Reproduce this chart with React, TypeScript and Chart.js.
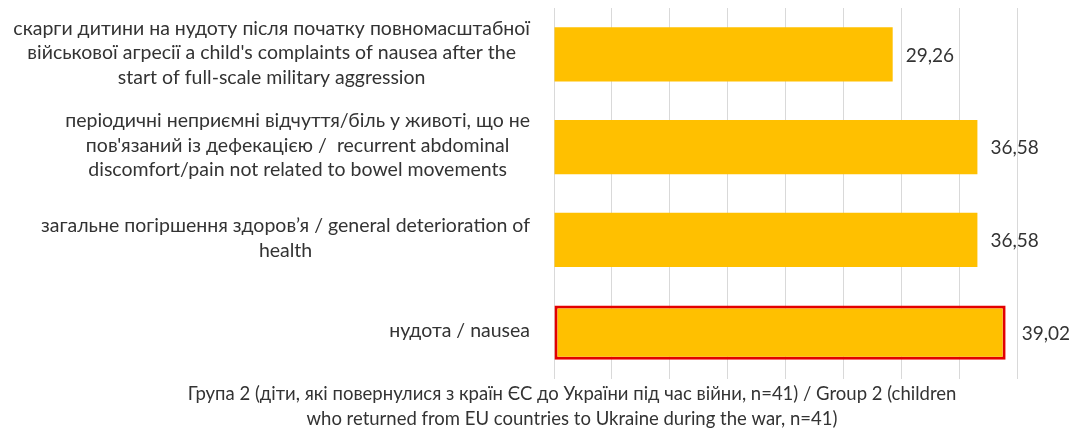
import React, { useEffect, useRef } from "react";
import { Chart, registerables } from "chart.js";

Chart.register(...registerables);

const categories: string[][] = [
  [
    "скарги дитини на нудоту після початку повномасштабної",
    "військової агресії a child's complaints of nausea after the",
    "start of full-scale military aggression",
  ],
  [
    "періодичні неприємні відчуття/біль у животі, що не",
    "пов'язаний із дефекацією /  recurrent abdominal",
    "discomfort/pain not related to bowel movements",
  ],
  ["загальне погіршення здоров’я / general deterioration of", "health"],
  ["нудота / nausea"],
];
const values = [29.26, 36.58, 36.58, 39.02];
const valueLabels = ["29,26", "36,58", "36,58", "39,02"];
const axisMin = 0;
const axisMax = 40;
const axisStep = 5;
const axisTitle = [
  "Група 2 (діти, які повернулися з країн ЄС до України під час війни, n=41) / Group 2 (children",
  "who returned from EU countries to Ukraine during the war, n=41)",
];

const LABEL_FONT = "19.5px Lato";
const VALUE_FONT = "19px Lato";
const TITLE_FONT = "18.5px Lato";
const TEXT = "#333333";
const borderWidths = [0, 0, 0, 3];

const textPlugin = {
  id: "customText",
  afterDraw(chart: any) {
    const ctx = chart.ctx;
    const ys = chart.scales.y;
    const area = chart.chartArea;
    ctx.save();
    ctx.font = LABEL_FONT;
    ctx.fillStyle = TEXT;
    ctx.textBaseline = "middle";
    ctx.textAlign = "center";
    const lh = 24.5;
    const rightEdge = area.left - 24;
    categories.forEach((lines, i) => {
      const yc = ys.getPixelForValue(i) - 1.5;
      const w = Math.max(...lines.map((l) => ctx.measureText(l).width));
      const cx = rightEdge - w / 2;
      lines.forEach((l, j) => {
        ctx.fillText(l, cx, yc + (j - (lines.length - 1) / 2) * lh);
      });
    });
    // data labels
    const meta = chart.getDatasetMeta(0);
    ctx.font = VALUE_FONT;
    ctx.textAlign = "left";
    meta.data.forEach((bar: any, i: number) => {
      ctx.fillText(valueLabels[i], bar.x + 13 + borderWidths[i], bar.y + 1);
    });
    // axis title
    ctx.font = TITLE_FONT;
    ctx.textAlign = "center";
    axisTitle.forEach((l, j) => {
      ctx.fillText(l, 572, 394.5 + j * 25);
    });
    ctx.restore();
  },
};

export default function App() {
  const ref = useRef<HTMLCanvasElement | null>(null);
  useEffect(() => {
    document.body.style.margin = "0";
    document.body.style.overflow = "hidden";
    if (!ref.current) return;
    const chart = new Chart(ref.current, {
      type: "bar",
      data: {
        labels: categories.map((c) => c.join(" ")),
        datasets: [
          {
            data: values,
            backgroundColor: "#FFC000",
            borderColor: ["#FFC000", "#FFC000", "#FFC000", "#E30000"],
            borderWidth: borderWidths,
            borderSkipped: false,
            barPercentage: 0.584,
            categoryPercentage: 1,
          },
        ],
      },
      options: {
        indexAxis: "y",
        animation: false,
        responsive: true,
        maintainAspectRatio: false,
        layout: { padding: { left: 554, right: 56, top: 8, bottom: 59 } },
        plugins: { legend: { display: false }, tooltip: { enabled: false } },
        scales: {
          x: {
            min: axisMin,
            max: axisMax,
            ticks: { display: false, stepSize: axisStep },
            grid: { color: "#D9D9D9", lineWidth: 1, drawTicks: false },
            border: { display: false },
          },
          y: {
            ticks: { display: false },
            grid: { display: false, drawTicks: false },
            border: { display: false },
          },
        },
      },
      plugins: [textPlugin],
    });
    return () => chart.destroy();
  }, []);
  return (
    <div style={{ width: 1073, height: 438, position: "relative" }}>
      <canvas ref={ref} />
    </div>
  );
}
